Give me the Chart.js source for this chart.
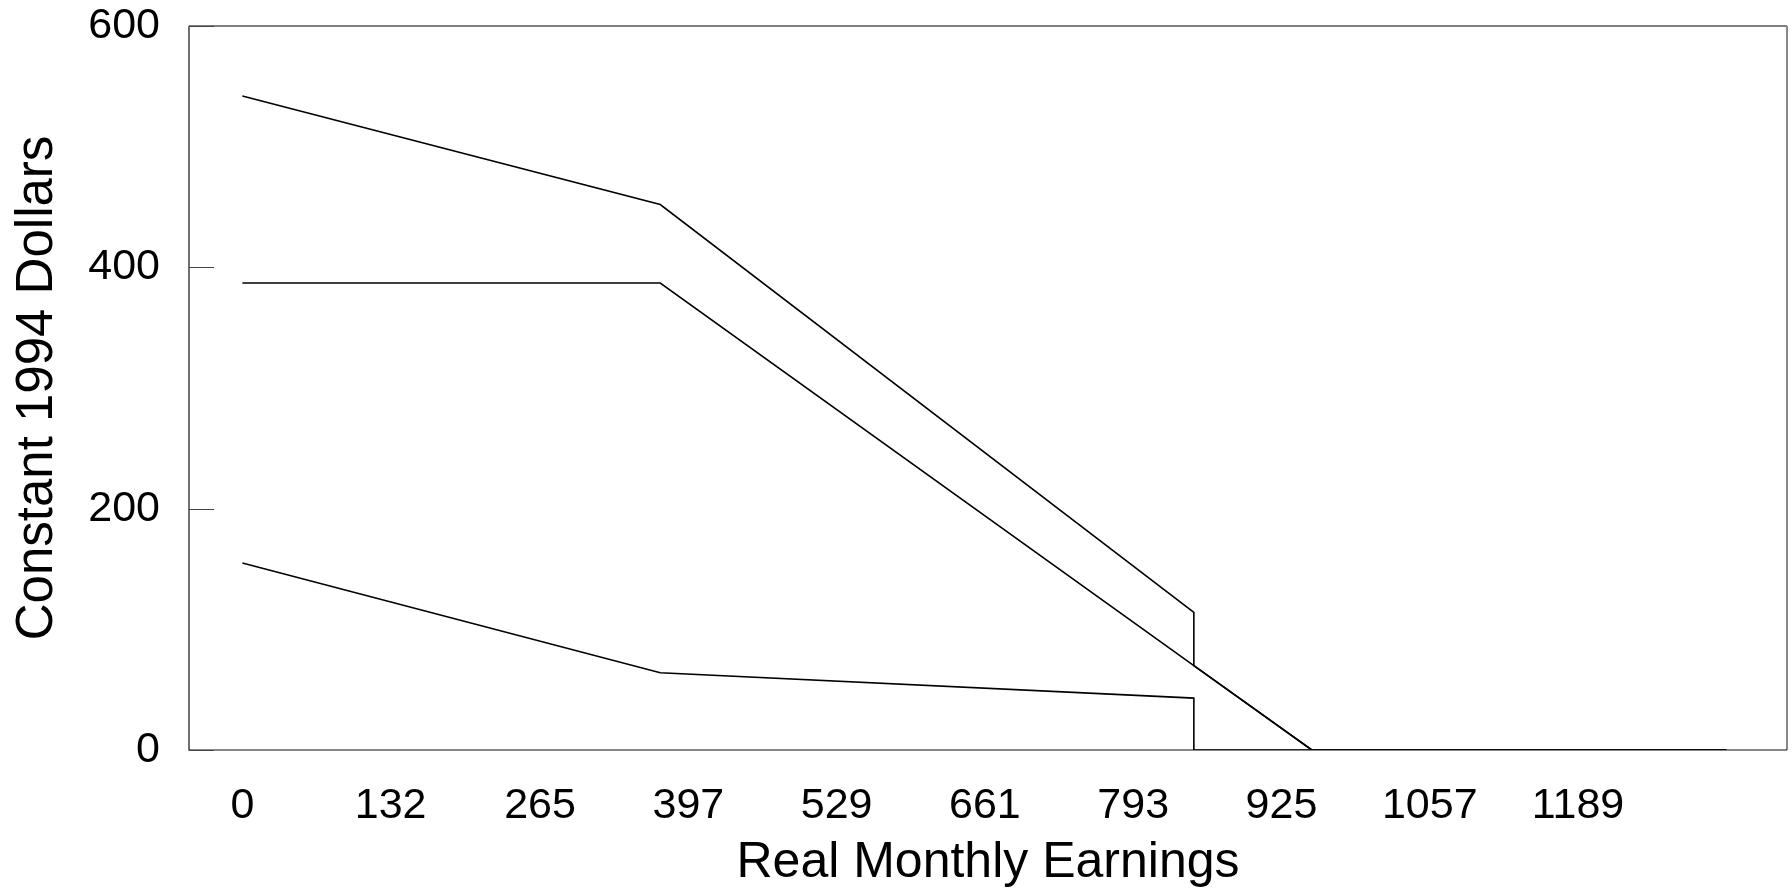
<!DOCTYPE html>
<html>
<head>
<meta charset="utf-8">
<script src="https://cdn.jsdelivr.net/npm/chart.js@4/dist/chart.umd.min.js"></script>
<style>
  html, body { margin: 0; padding: 0; background: #fff; }
  #wrap { width: 1792px; height: 893px; }
</style>
</head>
<body>
<div id="wrap"><canvas id="chart" width="1792" height="893"></canvas></div>
<script>
// real monthly earnings breakpoints (shared by all three lines)
const earnings = [0, 372, 847, 847, 952, 1321];
const seriesTop = [542, 452, 114, 70, 0, 0];
const seriesMid = [387, 387, 70, 70, 0, 0];
const seriesLow = [155, 64, 43, 0, 0, 0];

const xTickLabels = [0, 132, 265, 397, 529, 661, 793, 925, 1057, 1189];
const yTickLabels = [0, 200, 400, 600];

const FONT = '"Liberation Sans", Arial, sans-serif';

function toPoints(vals) {
  return earnings.map((x, i) => ({ x: x, y: vals[i] }));
}

function lineSet(vals) {
  return {
    data: toPoints(vals),
    borderColor: '#000',
    borderWidth: 1.6,
    pointRadius: 0,
    fill: false,
    tension: 0
  };
}

// frame + inward y ticks
const framePlugin = {
  id: 'frame',
  afterDraw(chart) {
    const ctx = chart.ctx;
    const a = chart.chartArea;
    const y = chart.scales.y;
    ctx.save();
    // top
    ctx.strokeStyle = '#555';
    ctx.lineWidth = 1.5;
    ctx.beginPath(); ctx.moveTo(a.left, a.top); ctx.lineTo(a.right, a.top); ctx.stroke();
    // right
    ctx.strokeStyle = '#888';
    ctx.lineWidth = 2;
    ctx.beginPath(); ctx.moveTo(a.right, a.top); ctx.lineTo(a.right, a.bottom); ctx.stroke();
    // left + bottom
    ctx.strokeStyle = '#111';
    ctx.lineWidth = 1.2;
    ctx.beginPath(); ctx.moveTo(a.left, a.top); ctx.lineTo(a.left, a.bottom); ctx.lineTo(a.right, a.bottom); ctx.stroke();
    // y ticks pointing inside
    ctx.strokeStyle = '#444';
    ctx.lineWidth = 1;
    y.ticks.forEach(t => {
      const py = Math.round(y.getPixelForValue(t.value)) + 0.5;
      ctx.beginPath(); ctx.moveTo(a.left, py); ctx.lineTo(a.left + 25, py); ctx.stroke();
    });
    ctx.restore();
  }
};

new Chart(document.getElementById('chart').getContext('2d'), {
  type: 'line',
  data: {
    datasets: [lineSet(seriesTop), lineSet(seriesMid), lineSet(seriesLow)]
  },
  options: {
    responsive: false,
    animation: false,
    layout: { padding: { top: 26, right: 5, bottom: 0, left: 0 } },
    plugins: { legend: { display: false }, tooltip: { enabled: false } },
    scales: {
      x: {
        type: 'linear',
        min: -47.5,
        max: 1375,
        grid: { display: false, drawTicks: false },
        border: { display: false },
        afterBuildTicks: s => { s.ticks = xTickLabels.map(v => ({ value: v })); },
        afterFit: s => { s.height = 143; s.paddingLeft = 0; s.paddingRight = 0; },
        ticks: {
          color: '#000',
          padding: 30,
          maxRotation: 0,
          autoSkip: false,
          font: { family: FONT, size: 43 },
          callback: v => String(v)
        },
        title: {
          display: true,
          text: 'Real Monthly Earnings',
          color: '#000',
          padding: { top: 0, bottom: 0 },
          font: { family: FONT, size: 50, lineHeight: 1.2 }
        }
      },
      y: {
        min: 0,
        max: 600,
        grid: { display: false, drawTicks: false },
        border: { display: false },
        afterBuildTicks: s => { s.ticks = yTickLabels.map(v => ({ value: v })); },
        afterFit: s => { s.width = 189; s.paddingTop = 0; s.paddingBottom = 0; },
        ticks: {
          color: '#000',
          padding: 29,
          font: { family: FONT, size: 43, lineHeight: 1.2 }
        },
        title: {
          display: true,
          text: 'Constant 1994 Dollars',
          color: '#000',
          padding: { top: 7, bottom: 0 },
          font: { family: FONT, size: 51, lineHeight: 1.2 }
        }
      }
    }
  },
  plugins: [framePlugin]
});
</script>
</body>
</html>
